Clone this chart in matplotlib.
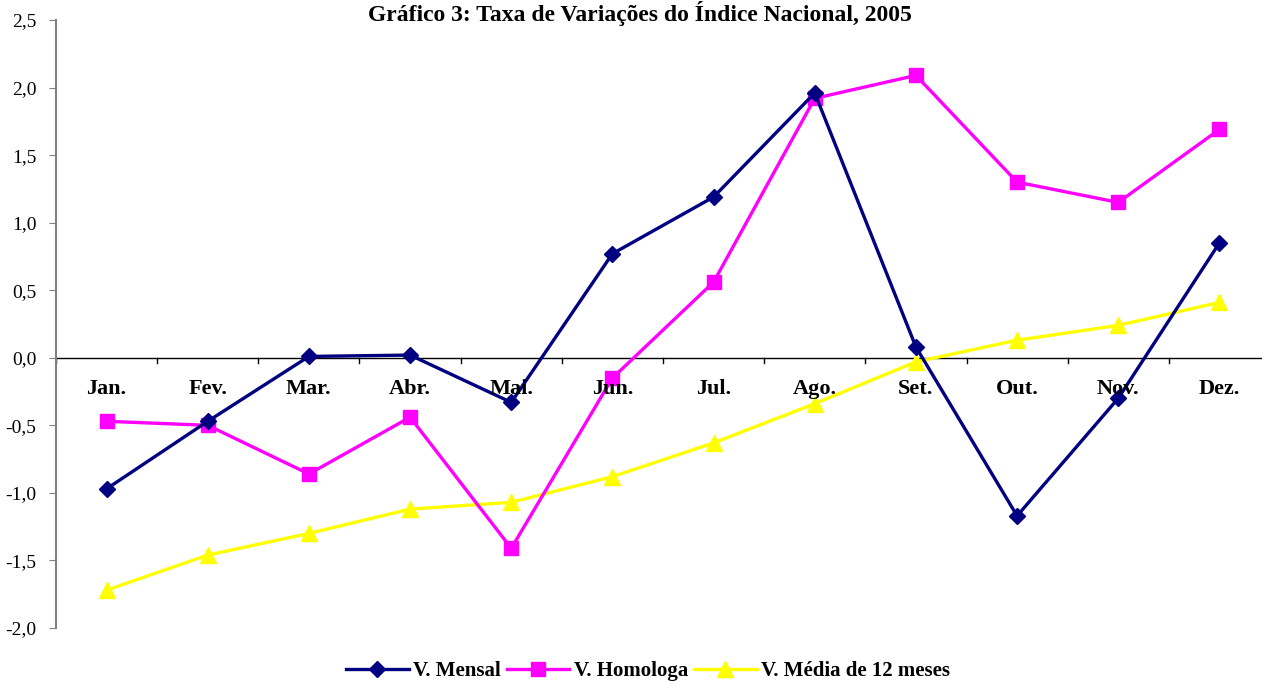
import matplotlib
matplotlib.use("Agg")
import matplotlib.pyplot as plt
import numpy as np

months = ["Jan.", "Fev.", "Mar.", "Abr.", "Mai.", "Jun.", "Jul.", "Ago.", "Set.", "Out.", "Nov.", "Dez."]
mensal = [-0.97, -0.47, 0.01, 0.02, -0.33, 0.77, 1.19, 1.96, 0.08, -1.17, -0.30, 0.85]
homologa = [-0.47, -0.50, -0.86, -0.44, -1.41, -0.15, 0.56, 1.92, 2.09, 1.30, 1.15, 1.69]
media12 = [-1.72, -1.46, -1.30, -1.12, -1.07, -0.88, -0.63, -0.34, -0.03, 0.13, 0.24, 0.41]
yticks = [-2.0, -1.5, -1.0, -0.5, 0.0, 0.5, 1.0, 1.5, 2.0, 2.5]
title = "Gráfico 3: Taxa de Variações do Índice Nacional, 2005"

serif = ["Liberation Serif", "DejaVu Serif"]
plt.rcParams['font.family'] = serif

fig = plt.figure(figsize=(12.62, 6.81), dpi=100)
ax = fig.add_axes([56/1262, 1 - 628/681, (1270 - 56)/1262, (628 - 20)/681])

x = np.arange(len(months))
ax.plot(x, mensal, color="#000080", lw=2.4, marker="D", ms=8, label="V. Mensal", zorder=4)
ax.plot(x, homologa, color="#FF00FF", lw=2.4, marker="s", ms=10, label="V. Homologa", zorder=3)
ax.plot(x, media12, color="#FFFF00", lw=2.4, marker="^", ms=11, label="V. Média de 12 meses", zorder=2)

ax.set_xlim(-0.5, 11.5)
ax.set_ylim(-2.0, 2.5)
ax.set_yticks(yticks)
ax.set_yticklabels([f"{v:.1f}".replace(".", ",") for v in yticks], fontsize=14)
ax.tick_params(axis="y", direction="out", length=5, color="#808080", pad=9)

for s in ["top", "right", "bottom"]:
    ax.spines[s].set_visible(False)
ax.spines["left"].set_color("#808080")
ax.spines["left"].set_linewidth(1.5)

# category axis at zero
ax.axhline(0, color="black", lw=1, zorder=1)
ax.set_xticks([])
for b in np.arange(-0.5, 12, 1.0):
    ax.plot([b, b], [0, -0.04], color="black", lw=1, clip_on=False, zorder=1)
for i, m in enumerate(months):
    ax.text(i, -0.23, m, ha="center", va="center", fontsize=16, fontweight="bold", zorder=5)

fig.text(640/1262, 1 - 1/681, title, ha="center", va="top", fontsize=17, fontweight="bold")

leg = fig.legend(loc="center", bbox_to_anchor=(648/1262, 1 - 671/681), ncol=3, frameon=False,
                 prop={"weight": "bold", "size": 15}, handlelength=3.0, handletextpad=0.2,
                 columnspacing=0.3, borderpad=0)

fig.savefig("out.png", dpi=100)
